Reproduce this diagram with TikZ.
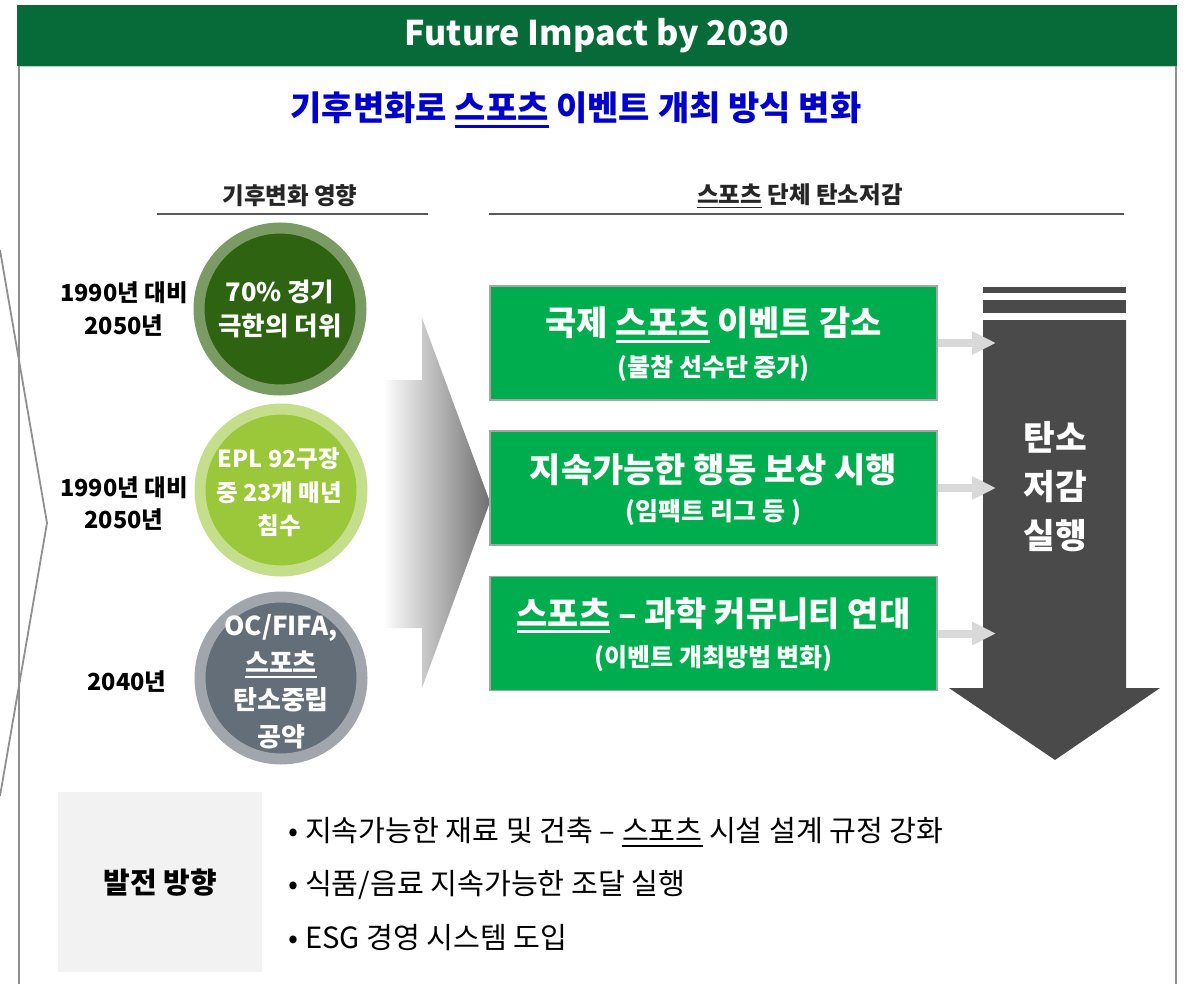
\documentclass[tikz,border=0pt]{standalone}
\usepackage{fontspec}
\setmainfont{Noto Sans CJK KR}
\usetikzlibrary{arrows.meta,calc}
\definecolor{hdrgreen}{HTML}{066B38}
\definecolor{titleblue}{HTML}{0000CC}
\definecolor{boxgreen}{HTML}{00AD4E}
\definecolor{boxborder}{HTML}{A6A6A6}
\definecolor{darkarr}{HTML}{4A4A4A}
\definecolor{lightarr}{HTML}{D9D9D9}
\definecolor{framegray}{HTML}{8F8F8F}
\definecolor{rulegray}{HTML}{595959}
\definecolor{panelgray}{HTML}{F2F2F2}
\definecolor{ringA}{HTML}{7A9C64}
\definecolor{coreA}{HTML}{2E6411}
\definecolor{ringB}{HTML}{C5DE8C}
\definecolor{coreB}{HTML}{9BC73A}
\definecolor{ringC}{HTML}{A0A6AC}
\definecolor{coreC}{HTML}{636E78}
\definecolor{shadegray}{HTML}{707070}
\newcommand\fs[2]{\fontsize{#1}{#2}\selectfont}
\newcommand\ulx[1]{\leavevmode\setbox0=\hbox{#1}\rlap{\rule[-0.2em]{\wd0}{0.07em}}\box0\relax}
\begin{document}
\begin{tikzpicture}[x=1pt,y=-1pt,
  frameline/.style={draw=framegray,line width=1.8pt},
  secrule/.style={draw=rulegray,line width=2pt},
  circ/.style={circle,minimum size=162pt,inner sep=0pt,line width=11pt},
  circtext/.style 2 args={text=white,align=center,font=\fs{#1}{#2}\bfseries},
  yearlabel/.style={text=black,align=center,font=\fs{23.5}{32.5}\bfseries},
  gbox/.style={rectangle,fill=boxgreen,draw=boxborder,line width=1.5pt,minimum width=447pt,minimum height=114pt,inner sep=0pt},
  gtitle/.style={text=white,font=\fs{34}{40}\bfseries},
  gsub/.style={text=white,font=\fs{25}{30}\bfseries},
  lightconn/.style={draw=lightarr,line width=8pt,-{Triangle[length=24pt,width=22pt]}},
  bullet/.style={anchor=west,text=black,font=\fs{29.2}{33}}
]
\useasboundingbox (0,0) rectangle (1185,984);

% header
\node[fill=hdrgreen,minimum width=1160pt,minimum height=61pt,inner sep=0pt,anchor=north west,text=white,font=\fs{34}{40}\bfseries] (hdr) at (17,5) {Future Impact by 2030};
\draw[draw=boxborder!60,line width=1pt] (19,66.5) -- (1176,66.5);
\draw[frameline] (19,66) -- (19,984);
\draw[frameline] (1176,66) -- (1176,984);
\draw[frameline] (0,250) -- (47,523) -- (0,796);

% main title
\node[text=titleblue,font=\fs{34}{40}\bfseries] (title) at (576,110) {기후변화로 \ulx{스포츠} 이벤트 개최 방식 변화};

% section headings
\node[text=black!85,font=\fs{23.5}{28}\bfseries] (secL) at (290,196) {기후변화 영향};
\node[text=black!85,font=\fs{23.5}{28}\bfseries] (secR) at (800,196) {\ulx{스포츠} 단체 탄소저감};
\draw[secrule] (157,214) -- (428,214);
\draw[secrule] (489,214) -- (1124,214);

% year labels
\node[yearlabel] (y1) at (124,309) {1990년 대비\\2050년};
\node[yearlabel] (y2) at (124,503.5) {1990년 대비\\2050년};
\node[yearlabel] (y3) at (127,682) {2040년};

% circles
\node[circ,draw=ringA,fill=coreA] (c1) at (280,309) {};
\node[circ,draw=ringB,fill=coreB] (c2) at (281,490) {};
\node[circ,draw=ringC,fill=coreC] (c3) at (281,678) {};
\node[circtext={25.5}{34}] (c1t) at (280,309) {70\% 경기\\극한의 더위};
\node[circtext={23.5}{33.5}] (c2t) at (279,492.5) {EPL 92구장\\중 23개 매년\\침수};
\node[circtext={26}{37}] (c3t) at (281,682) {OC/FIFA,\\\ulx{스포츠}\\탄소중립\\공약};

% gradient arrow
\shade[left color=white,right color=shadegray] (383,380) -- (422,380) -- (422,318) -- (490,502) -- (422,688) -- (422,628) -- (383,628) -- cycle;

% green boxes
\node[gbox] (b1) at (713.5,343) {};
\node[gbox] (b2) at (713.5,488) {};
\node[gbox] (b3) at (713.5,633.5) {};
\node[gtitle] (b1t) at (713.5,325) {국제 \ulx{스포츠} 이벤트 감소};
\node[gsub] (b1s) at (713.5,368) {(불참 선수단 증가)};
\node[gtitle] (b2t) at (713.5,470) {지속가능한 행동 보상 시행};
\node[gsub] (b2s) at (713.5,512) {(임팩트 리그 등 )};
\node[gtitle] (b3t) at (713.5,615) {\ulx{스포츠} – 과학 커뮤니티 연대};
\node[gsub] (b3s) at (713.5,658) {(이벤트 개최방법 변화)};

% dark arrow
\fill[darkarr] (983,287) rectangle (1126,293);
\fill[darkarr] (983,300) rectangle (1126,313);
\fill[darkarr] (983,320) -- (1126,320) -- (1126,688) -- (1160,688) -- (1055,760) -- (949,688) -- (983,688) -- cycle;
\node[text=white,align=center,font=\fs{34.5}{49}\bfseries] (dt) at (1055,487) {탄소\\저감\\실행};

% connectors
\coordinate (dx) at (996,0);
\coordinate (t1) at (b1.east -| dx);
\coordinate (t2) at (b2.east -| dx);
\coordinate (t3) at (b3.east -| dx);
\draw[lightconn] (b1.east) -- (t1);
\draw[lightconn] (b2.east) -- (t2);
\draw[lightconn] (b3.east) -- (t3);

% bottom
\node[fill=panelgray,minimum width=204pt,minimum height=180pt,inner sep=0pt,anchor=north west,text=black,font=\fs{29}{34}\bfseries] (dir) at (58,792) {발전 방향};
\node[bullet] (l1) at (285,832) {• 지속가능한 재료 및 건축 – \ulx{스포츠} 시설 설계 규정 강화};
\node[bullet] (l2) at (285,885) {• 식품/음료 지속가능한 조달 실행};
\node[bullet] (l3) at (285,938) {• ESG 경영 시스템 도입};
\end{tikzpicture}
\end{document}
